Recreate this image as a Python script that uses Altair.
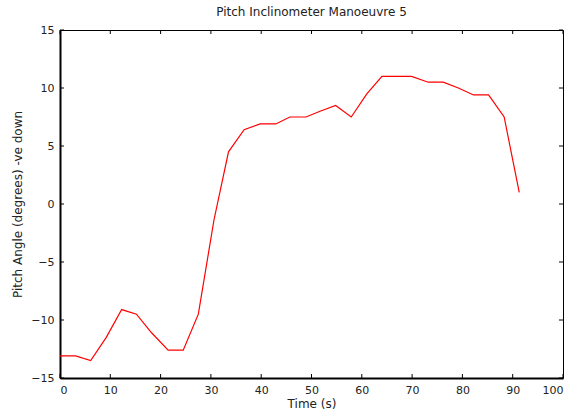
import altair as alt
import pandas as pd

time_s = [0, 3.1, 6.1, 9.2, 12.26, 15.2, 18.2, 21.5, 24.5, 27.5, 30.6, 33.5, 36.6, 39.8,
          42.9, 45.7, 48.9, 51.7, 54.8, 57.9, 61.0, 64.0, 67.0, 69.9, 73.2, 76.2, 79.2,
          82.2, 85.2, 88.3, 91.3]
pitch = [-13.1, -13.1, -13.5, -11.5, -9.1, -9.5, -11.1, -12.6, -12.6, -9.5, -1.4, 4.5,
         6.4, 6.9, 6.9, 7.5, 7.5, 8.0, 8.5, 7.5, 9.5, 11.0, 11.0, 11.0, 10.5, 10.5, 10.0,
         9.4, 9.4, 7.5, 1.0]
x_ticks = [0, 10, 20, 30, 40, 50, 60, 70, 80, 90, 100]
y_ticks = [-15, -10, -5, 0, 5, 10, 15]

df = pd.DataFrame({"t": time_s, "p": pitch})
xt = pd.DataFrame({"v": x_ticks})
yt = pd.DataFrame({"v": y_ticks})

FONT = "DejaVu Sans"
W, H = 503, 348
TL = 4

xscale = alt.Scale(domain=[0, 100], nice=False, zero=False)
yscale = alt.Scale(domain=[-15, 15], nice=False, zero=False)

line = alt.Chart(df).mark_line(color="#ff0000", strokeWidth=1.2).encode(
    x=alt.X("t:Q", scale=xscale, title="Time (s)",
            axis=alt.Axis(values=x_ticks, ticks=False, grid=False, domain=True,
                          domainColor="black", domainWidth=2, labelFont=FONT,
                          labelFontSize=11, labelColor="#222", labelPadding=6,
                          titleFont=FONT, titleFontSize=12, titleFontWeight="normal",
                          titleColor="#222", titlePadding=3)),
    y=alt.Y("p:Q", scale=yscale, title="Pitch Angle (degrees) -ve down",
            axis=alt.Axis(values=y_ticks, ticks=False, grid=False, domain=True,
                          domainColor="black", domainWidth=2, labelFont=FONT,
                          labelFontSize=11, labelColor="#222", labelPadding=6,
                          titleFont=FONT, titleFontSize=12, titleFontWeight="normal",
                          titleColor="#222", titlePadding=6)),
)

xb = alt.Chart(xt).mark_rule(color="black", strokeWidth=1).encode(
    x=alt.X("v:Q", scale=xscale), y=alt.value(H), y2=alt.value(H - TL))
xtp = alt.Chart(xt).mark_rule(color="black", strokeWidth=1).encode(
    x=alt.X("v:Q", scale=xscale), y=alt.value(0), y2=alt.value(TL))
yl = alt.Chart(yt).mark_rule(color="black", strokeWidth=1).encode(
    y=alt.Y("v:Q", scale=yscale), x=alt.value(0), x2=alt.value(TL))
yr = alt.Chart(yt).mark_rule(color="black", strokeWidth=1).encode(
    y=alt.Y("v:Q", scale=yscale), x=alt.value(W), x2=alt.value(W - TL))

chart = alt.layer(line, xb, xtp, yl, yr).properties(
    width=W, height=H,
    title=alt.TitleParams("Pitch Inclinometer Manoeuvre 5", font=FONT, fontSize=12,
                          fontWeight="normal", color="#222", offset=5),
    autosize=alt.AutoSizeParams(type="none"),
    padding={"left": 60, "top": 30, "right": 16, "bottom": 39},
    background="white",
).configure_view(stroke="black", strokeWidth=1)

chart.save("out.html", embed_options={"renderer": "svg", "actions": False})
